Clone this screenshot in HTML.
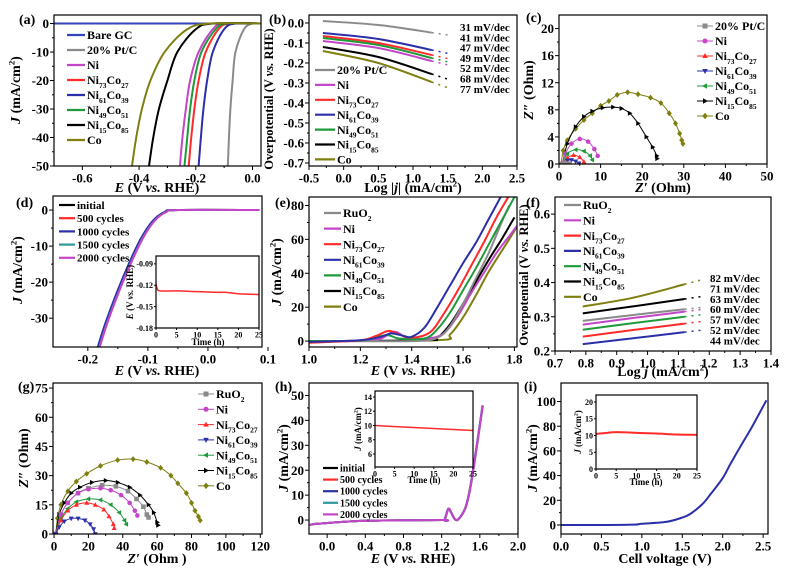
<!DOCTYPE html>
<html><head><meta charset="utf-8">
<style>
html,body{margin:0;padding:0;background:#fff;}
svg{display:block;font-family:"Liberation Serif",serif;font-weight:bold;}
</style></head>
<body>
<svg id="fig" width="788" height="569" viewBox="0 0 788 569" xmlns="http://www.w3.org/2000/svg"></svg>
<script>
// ---------- DATA ----------
const aJ = [0, 0, -2, -10, -20, -30, -40, -50];
const aPt   = [0.03, 0.0, -0.03, -0.06, -0.07, -0.078, -0.083, -0.087];
const aNi61 = [0.03, -0.06, -0.10, -0.14, -0.16, -0.173, -0.182, -0.19];
const aNi73 = [0.03, -0.08, -0.12, -0.165, -0.19, -0.205, -0.216, -0.225];
const aNi49 = [0.03, -0.09, -0.13, -0.18, -0.205, -0.22, -0.23, -0.24];
const aNi   = [0.03, -0.10, -0.14, -0.19, -0.22, -0.235, -0.247, -0.256];
const aNi15 = [0.03, -0.14, -0.20, -0.265, -0.30, -0.33, -0.35, -0.365];
const aCo   = [0.03, -0.15, -0.23, -0.31, -0.36, -0.39, -0.41, -0.425];
const aBareX = [-0.7, 0.03];
const aBareY = [0, 0];
const bX = [-0.3, 0.5, 1.27];
const bPt   = [0.01, -0.01, -0.048];
const bNi61 = [-0.05, -0.08, -0.135];
const bNi73 = [-0.065, -0.10, -0.16];
const bNi49 = [-0.075, -0.11, -0.175];
const bNi   = [-0.09, -0.125, -0.19];
const bNi15 = [-0.12, -0.17, -0.255];
const bCo   = [-0.14, -0.20, -0.295];
const bSlopes = ['31 mV/dec','41 mV/dec','47 mV/dec','49 mV/dec','52 mV/dec','68 mV/dec','77 mV/dec'];
const cCoX = [0.5,1,2,4,6,8,10,12,14,16.5,19,22,24.5,26.5,28,29,29.5,29.8];
const cCoY = [0,2,3.5,5.2,6.5,7.5,8.6,9.3,10.2,10.6,10.3,9.8,9,7.5,6,4.5,3.5,3];
const cNi15X = [0.8,2,4,6,8,10.5,13,15,17,19,21,22.5,23.5,23.6];
const cNi15Y = [0,3,5.5,7,7.8,8.3,8.4,8.2,7.5,6,4,2.5,1.2,0.8];
const cNiX = [0.8,1.5,3,5,7,8.5,9.3];
const cNiY = [0,1.5,3,3.7,3.3,2.2,1.2];
const cNi49X = [0.8,2,4,6,7.5,8];
const cNi49Y = [0,1.5,2.1,1.9,1.2,0.6];
const cNi73X = [0.8,2,3.5,5,6];
const cNi73Y = [0,0.9,1.3,1,0.3];
const cNi61X = [1,2,3,4,4.8];
const cNi61Y = [0,0.5,0.6,0.4,0.1];
const cPtX = [0.8,1.5,2.5];
const cPtY = [0,0.1,0.05];
const dE = [0.085,-0.05,-0.07,-0.09,-0.11,-0.13,-0.15,-0.17,-0.185];
const dJ = [0,0,-0.5,-3,-8,-15,-23,-32,-40];
const dShift = [0.000,0.001,-0.002,0.0005,0.001];
const dInsetT = [0,0.3,1,5,10,15,17,20,25];
const dInsetE = [-0.118,-0.125,-0.128,-0.128,-0.129,-0.13,-0.13,-0.132,-0.133];
const eNi61X=[1.0,1.2,1.28,1.32,1.37,1.4,1.45,1.5,1.55,1.6,1.65,1.7,1.75];
const eNi61Y=[-0.5,0.5,2.5,4.5,3,2.5,8,20,33,46,58,72,86];
const eNi73X=[1.0,1.2,1.26,1.31,1.35,1.4,1.47,1.52,1.58,1.63,1.68,1.73,1.78];
const eNi73Y=[-1,0.5,3,6,4,2,5,15,30,44,58,73,86];
const eNi49X=[1.0,1.2,1.3,1.35,1.45,1.5,1.55,1.6,1.65,1.7,1.75,1.8];
const eNi49Y=[0,0.3,3.5,1.5,1.5,7,17,30,43,57,71,85];
const eRuX=[1.0,1.4,1.5,1.55,1.6,1.65,1.7,1.75,1.78];
const eRuY=[0,0,2,9,22,37,52,70,80];
const eNiX=[1.0,1.25,1.33,1.38,1.45,1.52,1.58,1.63,1.68,1.73,1.78,1.81];
const eNiY=[0,0.5,5.5,2,1.5,4,15,28,40,52,62,68];
const eNi15X=[1.0,1.45,1.5,1.55,1.6,1.65,1.7,1.75,1.8];
const eNi15Y=[0,0.5,2,10,22,35,48,60,73];
const eCoX=[1.0,1.5,1.55,1.6,1.65,1.7,1.75,1.8,1.83];
const eCoY=[0,0.5,4,14,27,41,53,65,73];
const fX = [0.79, 0.95, 1.12];
const fCo   = [0.33, 0.355, 0.395];
const fNi15 = [0.31, 0.33, 0.352];
const fRu   = [0.288, 0.305, 0.322];
const fNi   = [0.277, 0.296, 0.315];
const fNi49 = [0.262, 0.281, 0.30];
const fNi73 = [0.242, 0.261, 0.28];
const fNi61 = [0.22, 0.237, 0.255];
const fSlopes = ['82 mV/dec','71 mV/dec','63 mV/dec','60 mV/dec','57 mV/dec','52 mV/dec','44 mV/dec'];
const gCoX=[1,2,4,8,13,19,27,37,46,54,62,68,72,77,80,82,84,85];
const gCoY=[0,8,15,22,27,31,35,38,38.5,37,34,30,26,21,16,12,9,7];
const gNi15X=[1,3,6,10,15,22,30,37,44,50,55,58,60,60.5];
const gNi15Y=[0,10,16,21,24,26.5,27.5,26.5,24,20,15,11,6,4.5];
const gRuX=[1,4,8,14,20,28,36,43,48,52,54,55];
const gRuY=[0,10,16,21,23.5,25,24.5,22,18,14,10,8.5];
const gNiX=[1,4,8,14,20,27,33,39,44,47,48.5];
const gNiY=[0,10,16,21,23,23.5,22.5,20,16,12,9.5];
const gNi49X=[1,4,8,13,20,27,33,38,41,42];
const gNi49Y=[0,8,13,16.5,18,17.5,15,11,7,5];
const gNi73X=[1,4,8,13,19,24,29,32,34.5,35];
const gNi73Y=[0,7,12,15,16,15,12.5,9,5,3];
const gNi61X=[1,3,6,10,14,18,21,23,24];
const gNi61Y=[0,3.5,6.5,8,8,7,5,2.5,0];
const hE=[-0.18,-0.1,0.4,1.2,1.23,1.27,1.3,1.34,1.38,1.45,1.5,1.55,1.6,1.63];
const hJ=[-2,-1.5,-0.3,0,0,4.5,3,0.3,0.5,5,13,25,38,46];
const hShift=[0,0.002,-0.002,0.001,0];
const hInsetT=[0,25];
const hInsetJ=[10,9.3];
const iV=[0,0.5,0.9,1.0,1.3,1.5,1.6,1.75,1.85,2.0,2.1,2.25,2.35,2.45,2.54];
const iJ=[0,0,0.3,1,2.5,6,9,17,25,38,50,67,78,90,101];
const iInsetT=[0,2,5,10,15,20,25];
const iInsetJ=[10.5,10.7,11,10.8,10.6,10.3,10.2];

// ---------- HELPERS ----------
const NS='http://www.w3.org/2000/svg';
const svg=document.getElementById('fig');
function mk(tag,parent,attrs){const e=document.createElementNS(NS,tag);for(const k in attrs)e.setAttribute(k,attrs[k]);parent.appendChild(e);return e;}
function lin(d0,d1,r0,r1){return v=>r0+(v-d0)/(d1-d0)*(r1-r0);}
function rich(parent,x,y,str,size,anchor,name){
  const t=mk('text',parent,{x:x,y:y,'font-size':size,'text-anchor':anchor||'start'});
  
  
  const parts=str.split(/(_\{[^}]*\}|\^\{[^}]*\}|\*\{[^}]*\})/);
  let shift=0;
  parts.forEach(p=>{
    if(!p)return;
    let sp;
    if(p.startsWith('_{')){sp=mk('tspan',t,{'font-size':size*0.62,dy:(size*0.3-shift)});shift=size*0.3;sp.textContent=p.slice(2,-1);}
    else if(p.startsWith('^{')){sp=mk('tspan',t,{'font-size':size*0.62,dy:(-size*0.4-shift)});shift=-size*0.4;sp.textContent=p.slice(2,-1);}
    else if(p.startsWith('*{')){sp=mk('tspan',t,{'font-style':'italic',dy:-shift});shift=0;sp.textContent=p.slice(2,-1);}
    else{sp=mk('tspan',t,{dy:-shift});shift=0;sp.textContent=p;}
  });
  return t;
}
function smooth(pts){
  if(pts.length<3)return 'M'+pts.map(p=>p[0].toFixed(2)+','+p[1].toFixed(2)).join('L');
  let d='M'+pts[0][0].toFixed(2)+','+pts[0][1].toFixed(2);
  for(let i=0;i<pts.length-1;i++){
    const p0=pts[i-1]||pts[i],p1=pts[i],p2=pts[i+1],p3=pts[i+2]||p2;
    const c1=[p1[0]+(p2[0]-p0[0])/6,p1[1]+(p2[1]-p0[1])/6];
    const c2=[p2[0]-(p3[0]-p1[0])/6,p2[1]-(p3[1]-p1[1])/6];
    d+='C'+c1.map(v=>v.toFixed(2)).join(',')+' '+c2.map(v=>v.toFixed(2)).join(',')+' '+p2[0].toFixed(2)+','+p2[1].toFixed(2);
  }
  return d;
}
let clipN=0;
function panel(name,b,xd,yd,xt,yt,fx,fy,fs,minor){
  const g=mk('g',svg,{});
  
  
  const X=lin(xd[0],xd[1],b.l,b.r),Y=lin(yd[0],yd[1],b.b,b.t);
  const id='cp'+(clipN++);
  const cp=mk('clipPath',g,{id:id});mk('rect',cp,{x:b.l,y:b.t,width:b.r-b.l,height:b.b-b.t});
  const ax=mk('g',g,{stroke:'#000','stroke-width':1});
  
  
  const tl=fs>10?4:2;
  xt.forEach((v,i)=>{const x=X(v);mk('line',ax,{x1:x,x2:x,y1:b.b,y2:b.b+tl});
    if(minor&&i<xt.length-1){const xm=X((v+xt[i+1])/2);if(xm<b.r)mk('line',ax,{x1:xm,x2:xm,y1:b.b,y2:b.b+tl/2});}
    const t=mk('text',g,{x:x,y:b.b+tl+fs*0.95,'font-size':fs,'text-anchor':'middle'});
    
    
    t.textContent=fx(v);});
  yt.forEach((v,i)=>{const y=Y(v);mk('line',ax,{x1:b.l-tl,x2:b.l,y1:y,y2:y});
    if(minor&&i<yt.length-1){const ym=Y((v+yt[i+1])/2);if(ym>b.t&&ym<b.b)mk('line',ax,{x1:b.l-tl/2,x2:b.l,y1:ym,y2:ym});}
    const t=mk('text',g,{x:b.l-tl-1,y:y+fs*0.35,'font-size':fs,'text-anchor':'end'});
    
    
    t.textContent=fy(v);});
  const plot=mk('g',g,{'clip-path':'url(#'+id+')'});
  
  
  const fr=mk('rect',g,{x:b.l,y:b.t,width:b.r-b.l,height:b.b-b.t,fill:'none',stroke:'#000','stroke-width':1.2});
  
  
  return {g,plot,X,Y,b};
}
function line(P,xs,ys,color,name,w,dash){
  const pts=xs.map((x,i)=>[P.X(x),P.Y(ys[i])]);
  const p=mk('path',P.plot,{d:smooth(pts),fill:'none',stroke:color,'stroke-width':w||2,'stroke-linejoin':'round'});
  if(dash)p.setAttribute('stroke-dasharray',dash);
  
  
  return p;
}
function marker(parent,x,y,shape,color,s){
  let e;
  if(shape==='sq')e=mk('rect',parent,{x:x-s,y:y-s,width:2*s,height:2*s});
  else if(shape==='ci')e=mk('circle',parent,{cx:x,cy:y,r:s});
  else{const m={up:[[0,-1.2],[1.1,0.8],[-1.1,0.8]],dn:[[0,1.2],[1.1,-0.8],[-1.1,-0.8]],lt:[[-1.2,0],[0.8,-1.1],[0.8,1.1]],rt:[[1.2,0],[-0.8,-1.1],[-0.8,1.1]],di:[[0,-1.3],[1.1,0],[0,1.3],[-1.1,0]]}[shape];
    e=mk('polygon',parent,{points:m.map(p=>(x+p[0]*s).toFixed(1)+','+(y+p[1]*s).toFixed(1)).join(' ')});}
  e.setAttribute('fill',color);
  return e;
}
function scatterLine(P,xs,ys,color,shape,name){
  line(P,xs,ys,color,name+'-line',1);
  const g=mk('g',P.plot,{});
  
  
  xs.forEach((x,i)=>marker(g,P.X(x),P.Y(ys[i]),shape,color,2.3));
}
function legend(parent,x,y,step,items,size,len,name){
  const g=mk('g',parent,{});
  
  
  items.forEach((it,i)=>{
    const yy=y+i*step;
    const e=mk('g',g,{});
    
    
    mk('line',e,{x1:x,x2:x+len,y1:yy,y2:yy,stroke:it[1],'stroke-width':it[2]?1:2.2});
    if(it[2])marker(e,x+len/2,yy,it[2],it[1],2.5);
    rich(e,x+len+2,yy+size*0.35,it[0],size,'start','legend-label');
  });
}
function title(x,y,str,size,rot,name){
  const t=rich(svg,x,y,str,size,'middle',name);
  if(rot)t.setAttribute('transform','rotate(-90 '+x+' '+y+')');
  return t;
}
const C={gray:'#8a8a8a',mag:'#c445c8',red:'#ff2a2a',blue:'#2b2fa8',green:'#1f9a3a',black:'#000',olive:'#7f7f10',bare:'#3344bb',teal:'#2a9a9a'};
const f1=v=>v.toFixed(1), f0=v=>String(Math.round(v)), f2=v=>v.toFixed(2);
function lab(x,y,s){const t=mk('text',svg,{x:x,y:y,'font-size':14});t.textContent=s;}

// ---------- (a) ----------
const A=panel('panel-a-her-polarization',{l:54,r:261,t:15,b:166},[-0.7,0.03],[-50,3],[-0.6,-0.4,-0.2,0.0],[0,-10,-20,-30,-40,-50],f1,f0,13,true);
line(A,aBareX,aBareY,C.bare,'series-bare-gc');
line(A,aPt,aJ,C.gray,'series-pt-c');
line(A,aNi,aJ,C.mag,'series-ni');
line(A,aNi73,aJ,C.red,'series-ni73co27');
line(A,aNi49,aJ,C.green,'series-ni49co51');
line(A,aNi61,aJ,C.blue,'series-ni61co39');
line(A,aNi15,aJ,C.black,'series-ni15co85');
line(A,aCo,aJ,C.olive,'series-co');
legend(A.g,67,35,15,[['Bare GC',C.bare],['20% Pt/C',C.gray],['Ni',C.mag],['Ni_{73}Co_{27}',C.red],['Ni_{61}Co_{39}',C.blue],['Ni_{49}Co_{51}',C.green],['Ni_{15}Co_{85}',C.black],['Co',C.olive]],12,18,'legend-a');
lab(19,24,'(a)');
title(157,192,'*{E} (V *{vs.} RHE)',14,false,'x-axis-title-a');
title(20,90,'*{J} (mA/cm^{2})',14,true,'y-axis-title-a');

// ---------- (b) ----------
const B=panel('panel-b-her-tafel',{l:309,r:517,t:15,b:166},[-0.5,2.5],[-0.715,0.04],[-0.5,0,0.5,1,1.5,2,2.5],[0,-0.1,-0.2,-0.3,-0.4,-0.5,-0.6,-0.7],f1,f1,13,true);
[[bPt,C.gray,'pt-c'],[bNi61,C.blue,'ni61co39'],[bNi73,C.red,'ni73co27'],[bNi49,C.green,'ni49co51'],[bNi,C.mag,'ni'],[bNi15,C.black,'ni15co85'],[bCo,C.olive,'co']].forEach(s=>{
  line(B,bX,s[0],s[1],'tafel-'+s[2]);
  const slope=(s[0][2]-s[0][1])/(bX[2]-bX[1]);
  line(B,[bX[2],1.5],[s[0][2],s[0][2]+slope*(1.5-bX[2])],s[1],'tafel-fit-'+s[2],1.5,'2,5');
});
bSlopes.forEach((s,i)=>{const t=mk('text',B.g,{x:460,y:31+i*10.3,'font-size':11});t.textContent=s;});
legend(B.g,315,70,14.9,[['20% Pt/C',C.gray],['Ni',C.mag],['Ni_{73}Co_{27}',C.red],['Ni_{61}Co_{39}',C.blue],['Ni_{49}Co_{51}',C.green],['Ni_{15}Co_{85}',C.black],['Co',C.olive]],12,20,'legend-b');
lab(269,24,'(b)');
title(413,192,'Log  |*{j}| (mA/cm^{2})',14,false,'x-axis-title-b');
title(273,99,'Overpotential (V *{vs.} RHE)',12.5,true,'y-axis-title-b');

// ---------- (c) ----------
const Cc=panel('panel-c-her-nyquist',{l:559,r:767,t:15,b:164},[0,50],[0,22],[0,10,20,30,40,50],[0,4,8,12,16,20],f0,f0,13,true);
scatterLine(Cc,cCoX,cCoY,C.olive,'di','nyquist-co');
scatterLine(Cc,cNi15X,cNi15Y,C.black,'rt','nyquist-ni15co85');
scatterLine(Cc,cNiX,cNiY,C.mag,'ci','nyquist-ni');
scatterLine(Cc,cNi49X,cNi49Y,C.green,'lt','nyquist-ni49co51');
scatterLine(Cc,cNi73X,cNi73Y,C.red,'up','nyquist-ni73co27');
scatterLine(Cc,cNi61X,cNi61Y,C.blue,'dn','nyquist-ni61co39');
scatterLine(Cc,cPtX,cPtY,C.gray,'sq','nyquist-pt-c');
legend(Cc.g,697,26,15,[['20% Pt/C',C.gray,'sq'],['Ni',C.mag,'ci'],['Ni_{73}Co_{27}',C.red,'up'],['Ni_{61}Co_{39}',C.blue,'dn'],['Ni_{49}Co_{51}',C.green,'lt'],['Ni_{15}Co_{85}',C.black,'rt'],['Co',C.olive,'di']],12,16,'legend-c');
lab(526,22,'(c)');
title(663,192,'*{Z′} (Ohm)',14,false,'x-axis-title-c');
title(533,90,'*{Z″} (Ohm)',14,true,'y-axis-title-c');

// ---------- (d) ----------
const D=panel('panel-d-her-stability',{l:53,r:262,t:196,b:347},[-0.258,0.09],[-38,3.9],[-0.2,-0.1,0.0,0.1],[0,-10,-20,-30],f1,f0,13,true);
[C.black,C.red,C.blue,C.teal,C.mag].forEach((col,k)=>line(D,dE.map(v=>v+dShift[k]),dJ,col,'cycle-curve-'+k));
legend(D.g,59,205,13.2,[['initial',C.black],['500 cycles',C.red],['1000 cycles',C.blue],['1500 cycles',C.teal],['2000 cycles',C.mag]],11,16,'legend-d');
const DI=panel('inset-d-chronopotentiometry',{l:156,r:259,t:256,b:328},[0,25],[-0.18,-0.079],[0,5,10,15,20,25],[-0.09,-0.12,-0.15,-0.18],f0,f2,8,false);
line(DI,dInsetT,dInsetE,C.red,'inset-d-potential',1.5);
title(208,345,'Time (h)',9,false,'inset-d-x-title');
title(133,292,'*{E} (V *{vs.} RHE)',9,true,'inset-d-y-title');
lab(16,207,'(d)');
title(157,375,'*{E} (V *{vs.} RHE)',14,false,'x-axis-title-d');
title(22,270,'*{J} (mA/cm^{2})',14,true,'y-axis-title-d');

// ---------- (e) ----------
const E=panel('panel-e-oer-polarization',{l:309,r:517,t:197,b:347},[1.0,1.81],[-3.5,85],[1.0,1.2,1.4,1.6,1.8],[0,20,40,60,80],f1,f0,13,true);
line(E,eCoX,eCoY,C.olive,'series-co');
line(E,eNi15X,eNi15Y,C.black,'series-ni15co85');
line(E,eNiX,eNiY,C.mag,'series-ni');
line(E,eRuX,eRuY,C.gray,'series-ruo2');
line(E,eNi49X,eNi49Y,C.green,'series-ni49co51');
line(E,eNi73X,eNi73Y,C.red,'series-ni73co27');
line(E,eNi61X,eNi61Y,C.blue,'series-ni61co39');
legend(E.g,324,213,15.6,[['RuO_{2}',C.gray],['Ni',C.mag],['Ni_{73}Co_{27}',C.red],['Ni_{61}Co_{39}',C.blue],['Ni_{49}Co_{51}',C.green],['Ni_{15}Co_{85}',C.black],['Co',C.olive]],12,17,'legend-e');
lab(275,207,'(e)');
title(413,375,'*{E} (V *{vs.} RHE)',14,false,'x-axis-title-e');
title(281,272,'*{J} (mA/cm^{2})',14,true,'y-axis-title-e');

// ---------- (f) ----------
const F=panel('panel-f-oer-tafel',{l:555,r:771,t:197,b:351},[0.7,1.4],[0.2,0.65],[0.7,0.8,0.9,1.0,1.1,1.2,1.3,1.4],[0.2,0.3,0.4,0.5,0.6],f1,f1,13,true);
[[fCo,C.olive,'co'],[fNi15,C.black,'ni15co85'],[fRu,C.gray,'ruo2'],[fNi,C.mag,'ni'],[fNi49,C.green,'ni49co51'],[fNi73,C.red,'ni73co27'],[fNi61,C.blue,'ni61co39']].forEach(s=>{
  line(F,fX,s[0],s[1],'tafel-'+s[2]);
  const slope=(s[0][2]-s[0][1])/(fX[2]-fX[1]);
  line(F,[fX[2],1.18],[s[0][2],s[0][2]+slope*(1.18-fX[2])],s[1],'tafel-fit-'+s[2],1.5,'2,5');
});
fSlopes.forEach((s,i)=>{const t=mk('text',F.g,{x:710,y:282+i*10.4,'font-size':11});t.textContent=s;});
legend(F.g,564,205,15.3,[['RuO_{2}',C.gray],['Ni',C.mag],['Ni_{73}Co_{27}',C.red],['Ni_{61}Co_{39}',C.blue],['Ni_{49}Co_{51}',C.green],['Ni_{15}Co_{85}',C.black],['Co',C.olive]],12,17,'legend-f');
lab(526,207,'(f)');
title(663,376,'Log *{j} (mA/cm^{2})',14,false,'x-axis-title-f');
title(528,275,'Overpotential (V *{vs.} RHE)',12.5,true,'y-axis-title-f');

// ---------- (g) ----------
const G=panel('panel-g-oer-nyquist',{l:53,r:262,t:383,b:534},[-0.6,121],[0,77.6],[0,20,40,60,80,100,120],[0,15,30,45,60,75],f0,f0,13,true);
scatterLine(G,gCoX,gCoY,C.olive,'di','nyquist-co');
scatterLine(G,gNi15X,gNi15Y,C.black,'rt','nyquist-ni15co85');
scatterLine(G,gRuX,gRuY,C.gray,'sq','nyquist-ruo2');
scatterLine(G,gNiX,gNiY,C.mag,'ci','nyquist-ni');
scatterLine(G,gNi49X,gNi49Y,C.green,'lt','nyquist-ni49co51');
scatterLine(G,gNi73X,gNi73Y,C.red,'up','nyquist-ni73co27');
scatterLine(G,gNi61X,gNi61Y,C.blue,'dn','nyquist-ni61co39');
legend(G.g,198,394,15.3,[['RuO_{2}',C.gray,'sq'],['Ni',C.mag,'ci'],['Ni_{73}Co_{27}',C.red,'up'],['Ni_{61}Co_{39}',C.blue,'dn'],['Ni_{49}Co_{51}',C.green,'lt'],['Ni_{15}Co_{85}',C.black,'rt'],['Co',C.olive,'di']],12,16,'legend-g');
lab(18,391,'(g)');
title(157,563,'*{Z′} (Ohm )',14,false,'x-axis-title-g');
title(28,458,'*{Z″} (Ohm)',14,true,'y-axis-title-g');

// ---------- (h) ----------
const H=panel('panel-h-oer-stability',{l:309,r:518,t:383,b:534},[-0.19,2.0],[-5.6,55],[0,0.4,0.8,1.2,1.6,2.0],[0,10,20,30,40,50],f1,f0,13,true);
[C.black,C.red,C.blue,C.teal,C.mag].forEach((col,k)=>line(H,hE.map(v=>v+hShift[k]),hJ,col,'cycle-curve-'+k));
legend(H.g,323,468,11.6,[['initial',C.black],['500 cycles',C.red],['1000 cycles',C.blue],['1500 cycles',C.teal],['2000 cycles',C.mag]],10,15,'legend-h');
const HI=panel('inset-h-chronoamperometry',{l:375,r:473,t:391,b:467},[0,25],[4.18,14.84],[0,5,10,15,20,25],[6,8,10,12,14],f0,f0,8,false);
line(HI,hInsetT,hInsetJ,C.red,'inset-h-current',1.5);
title(424,483,'Time (h)',9,false,'inset-h-x-title');
title(361,429,'*{J} (mA/cm^{2})',9,true,'inset-h-y-title');
lab(275,391,'(h)');
title(413,563,'*{E} (V *{vs.} RHE)',14,false,'x-axis-title-h');
title(288,458,'*{J} (mA/cm^{2})',14,true,'y-axis-title-h');

// ---------- (i) ----------
const I=panel('panel-i-overall-water-splitting',{l:561,r:768,t:383,b:534},[0,2.56],[-7.3,115],[0,0.5,1.0,1.5,2.0,2.5],[0,20,40,60,80,100],f1,f0,13,true);
line(I,iV,iJ,C.blue,'cell-polarization');
const II=panel('inset-i-chronoamperometry',{l:596,r:697,t:395,b:469},[0,25],[0,22.1],[0,5,10,15,20,25],[0,5,10,15,20],f0,f0,8,false);
line(II,iInsetT,iInsetJ,C.red,'inset-i-current',2);
title(646,485,'Time (h)',9,false,'inset-i-x-title');
title(581,432,'*{J} (mA/cm^{2})',9,true,'inset-i-y-title');
lab(524,391,'(i)');
title(665,563,'Cell voltage (V)',14,false,'x-axis-title-i');
title(537,458,'*{J} (mA/cm^{2})',14,true,'y-axis-title-i');
</script>
</body></html>
